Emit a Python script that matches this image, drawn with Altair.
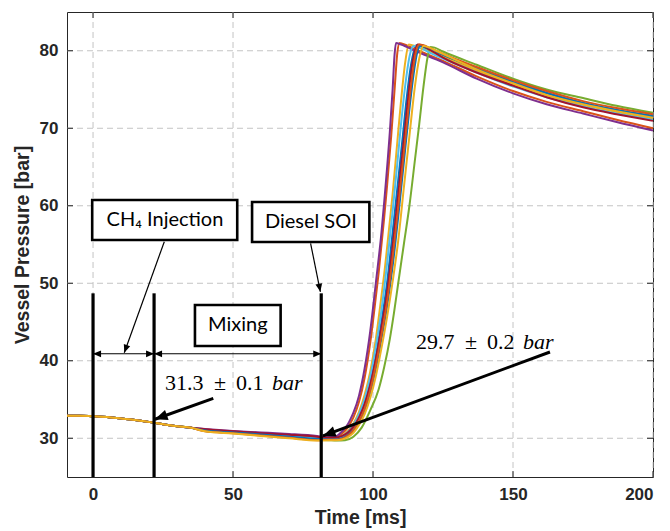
import math
import altair as alt
import pandas as pd

# ---------------------------------------------------------------- data
# Compression phase, identical for every run
T_SHARED = [-9.3, -5, 0, 5, 10, 15, 21, 25, 30, 35]
P_SHARED = [32.9, 32.9, 32.85, 32.75, 32.55, 32.35, 32.05, 31.8, 31.55, 31.35]

# Mixing phase, per run
T_MIX = [40, 50, 60, 70, 80]

RUN_NAMES = ["run01", "run02", "run03", "run04", "run05",
             "run06", "run07", "run08", "run09", "run10"]
RUN_COLORS = ["#0072BD", "#D95319", "#EDB120", "#7E2F8E", "#77AC30",
              "#4DBEEE", "#A2142F", "#0072BD", "#D95319", "#EDB120"]

MIX = {
    "run01": [31.05, 30.8, 30.5, 30.25, 29.95],
    "run02": [31.1, 30.85, 30.6, 30.35, 30.1],
    "run03": [31.0, 30.7, 30.45, 30.15, 29.85],
    "run04": [31.2, 30.95, 30.75, 30.55, 30.3],
    "run05": [30.95, 30.7, 30.4, 30.1, 29.8],
    "run06": [31.05, 30.8, 30.55, 30.3, 30.0],
    "run07": [31.15, 30.9, 30.65, 30.45, 30.2],
    "run08": [31.0, 30.75, 30.5, 30.2, 29.9],
    "run09": [30.9, 30.65, 30.35, 30.05, 29.75],
    "run10": [30.9, 30.6, 30.3, 30.0, 29.7],
}

# Ignition, combustion and cool-down, per run
T_COMB = {
    "run01": [84, 87, 89, 91, 93, 95, 97, 99, 101, 103, 105, 107, 109, 110.5, 112, 113.5, 115.5, 117, 120, 125, 137, 150, 162, 175, 187, 200],
    "run02": [84, 87, 89, 91, 92, 93, 95, 97, 99, 101, 102, 104, 105, 106.5, 107.8, 108.7, 109.5, 110.5, 115, 125, 137, 150, 162, 175, 187, 200],
    "run03": [84, 87, 89, 91, 93, 95, 97, 99, 101, 103, 104, 106, 107, 108.5, 110, 111.5, 112.8, 114, 118, 125, 137, 150, 162, 175, 187, 200],
    "run04": [84, 87, 89, 91, 92, 93, 95, 97, 99, 101, 103, 104, 106, 107, 107.7, 108.2, 110, 115, 125, 137, 150, 162, 175, 187, 200],
    "run05": [84, 87, 90, 93, 96, 99, 102, 104, 106, 107.5, 109, 111, 113, 115, 116.5, 118, 119.5, 120.5, 122, 125, 137, 150, 162, 175, 187, 200],
    "run06": [84, 87, 89, 91, 93, 95, 97, 99, 101, 103, 105, 107, 108.5, 110, 111.5, 113, 114.5, 116, 120, 125, 137, 150, 162, 175, 187, 200],
    "run07": [84, 87, 89, 91, 93, 95, 97, 99, 101, 103, 105, 107, 109, 111, 112.5, 114, 116, 117.5, 120, 125, 137, 150, 162, 175, 187, 200],
    "run08": [84, 87, 89, 91, 93, 95, 97, 99, 101, 103, 105, 107, 109, 111, 113, 114.5, 115.8, 117, 118.5, 121, 125, 137, 150, 162, 175, 187, 200],
    "run09": [84, 87, 89, 91, 93, 95, 97, 99, 101, 103, 105, 107, 109, 111, 112.5, 114, 115.3, 116.5, 118, 120, 125, 137, 150, 162, 175, 187, 200],
    "run10": [84, 87, 89, 91, 93, 95, 97, 99, 101, 103, 105, 107, 109, 111, 113, 115, 116.5, 118, 119.5, 122, 125, 137, 150, 162, 175, 187, 200],
}
P_COMB = {
    "run01": [29.9, 29.95, 30.15, 30.6, 31.4, 32.7, 34.5, 37.1, 40.6, 45.0, 50.0, 56.5, 63.3, 68.5, 73.8, 78.0, 80.7, 80.6, 80.1, 79.3, 77.6, 75.9, 74.5, 73.2, 72.3, 71.5],
    "run02": [30.0, 30.1, 30.6, 31.4, 32.0, 32.7, 34.7, 37.8, 42.3, 48.2, 51.3, 58.5, 62.5, 69.0, 75.5, 79.8, 81.0, 80.9, 80.2, 78.7, 76.7, 74.8, 73.4, 72.2, 71.1, 70.0],
    "run03": [29.9, 29.95, 30.3, 30.9, 31.9, 33.4, 35.6, 38.6, 42.8, 48.3, 51.2, 58.0, 61.5, 67.5, 73.5, 78.5, 80.8, 80.7, 80.2, 79.2, 77.4, 75.6, 74.2, 73.0, 72.1, 71.2],
    "run04": [30.15, 30.3, 30.9, 31.8, 32.5, 33.3, 35.5, 39.0, 43.8, 50.0, 56.5, 60.5, 69.5, 75.0, 79.5, 81.0, 80.8, 80.0, 78.5, 76.4, 74.5, 73.1, 71.9, 70.8, 69.7],
    "run05": [29.75, 29.7, 29.75, 30.2, 31.4, 33.6, 36.3, 39.2, 42.8, 46.2, 50.0, 55.0, 60.0, 66.0, 70.5, 75.3, 79.2, 80.5, 80.4, 79.9, 78.2, 76.4, 75.0, 73.9, 72.9, 72.0],
    "run06": [29.95, 30.0, 30.25, 30.8, 31.7, 33.1, 35.1, 37.9, 41.8, 46.5, 52.5, 59.3, 64.8, 70.5, 75.5, 79.2, 80.6, 80.5, 79.8, 79.0, 77.2, 75.4, 74.0, 72.8, 71.9, 71.1],
    "run07": [30.05, 30.1, 30.3, 30.75, 31.5, 32.7, 34.4, 36.9, 40.2, 44.3, 48.8, 54.8, 61.5, 68.5, 73.8, 78.2, 80.8, 80.7, 80.2, 79.1, 77.2, 75.5, 74.0, 72.7, 71.8, 70.95],
    "run08": [29.85, 29.85, 30.0, 30.35, 31.0, 32.1, 33.6, 35.9, 39.0, 42.8, 47.0, 52.2, 58.6, 65.6, 72.5, 77.0, 79.8, 80.7, 80.6, 80.2, 79.5, 77.8, 76.0, 74.6, 73.3, 72.4, 71.6],
    "run09": [29.8, 29.8, 29.95, 30.35, 31.05, 32.2, 33.8, 36.2, 39.4, 43.3, 47.6, 53.3, 59.8, 66.8, 72.0, 76.8, 79.8, 80.8, 80.7, 80.4, 79.6, 77.9, 76.2, 74.8, 73.5, 72.6, 71.8],
    "run10": [29.75, 29.75, 29.85, 30.15, 30.7, 31.7, 33.1, 35.2, 38.0, 41.6, 45.6, 50.2, 55.5, 62.3, 69.0, 75.5, 79.0, 80.6, 80.5, 80.1, 79.6, 77.6, 75.8, 74.3, 73.1, 72.2, 71.35],
}

X_TICKS = [0, 50, 100, 150, 200]
Y_TICKS = [30, 40, 50, 60, 70, 80]

# ---------------------------------------------------------------- layout
W, H = 586, 465
X_DOM = [-9.3, 200]
Y_DOM = [25, 85]
SX = W / (X_DOM[1] - X_DOM[0])   # px per ms
SY = H / (Y_DOM[1] - Y_DOM[0])   # px per bar

rows = []
for name in RUN_NAMES:
    ts = T_SHARED + T_MIX + T_COMB[name]
    ps = P_SHARED + MIX[name] + P_COMB[name]
    for i, (t, p) in enumerate(zip(ts, ps)):
        rows.append({"run": name, "t": t, "p": p, "i": i})
curves = pd.DataFrame(rows)

xs = alt.Scale(domain=X_DOM, nice=False, zero=False)
ys = alt.Scale(domain=Y_DOM, nice=False, zero=False)

# one axis definition shared by every layer, so they merge into a single axis
X_AXIS = alt.Axis(values=X_TICKS, grid=False, domain=False, ticks=False,
                  labelPadding=9, titlePadding=6)
Y_AXIS = alt.Axis(values=Y_TICKS, grid=False, domain=False, ticks=False,
                  labelPadding=9, titlePadding=7)
X_TITLE = "Time [ms]"
Y_TITLE = "Vessel Pressure [bar]"


def X(field):
    return alt.X(field, type="quantitative", scale=xs, axis=X_AXIS, title=X_TITLE)


def Y(field):
    return alt.Y(field, type="quantitative", scale=ys, axis=Y_AXIS, title=Y_TITLE)


def X2(field):
    return alt.X2(field)


def Y2(field):
    return alt.Y2(field)


def heading(t0, p0, t1, p1):
    dx = (t1 - t0) * SX
    dy = -(p1 - p0) * SY
    return math.degrees(math.atan2(dx, -dy)) % 360


ARROW = "M0,0 L-0.42,1 L0.42,1 Z"  # tip at the anchor point, pointing up

# ---------------------------------------------------------------- layers
grid_x = alt.Chart(pd.DataFrame({"v": X_TICKS})).mark_rule(
    color="#c4c4c4", strokeWidth=1, strokeDash=[6, 4]
).encode(x=X("v"))
grid_y = alt.Chart(pd.DataFrame({"v": Y_TICKS})).mark_rule(
    color="#c4c4c4", strokeWidth=1, strokeDash=[6, 4]
).encode(y=Y("v"))

ticks_df_x = pd.DataFrame({"v": X_TICKS})
ticks_df_y = pd.DataFrame({"v": Y_TICKS})
tick_style = dict(color="#262626", strokeWidth=1)
ticks = [
    alt.Chart(ticks_df_y).mark_rule(**tick_style).encode(y=Y("v"), x=alt.value(0), x2=alt.value(6)),
    alt.Chart(ticks_df_y).mark_rule(**tick_style).encode(y=Y("v"), x=alt.value(W - 6), x2=alt.value(W)),
    alt.Chart(ticks_df_x).mark_rule(**tick_style).encode(x=X("v"), y=alt.value(H - 6), y2=alt.value(H)),
    alt.Chart(ticks_df_x).mark_rule(**tick_style).encode(x=X("v"), y=alt.value(0), y2=alt.value(6)),
]

lines = alt.Chart(curves).mark_line(strokeWidth=2, interpolate="monotone").encode(
    x=X("t"),
    y=Y("p"),
    color=alt.Color("run:N", scale=alt.Scale(domain=RUN_NAMES, range=RUN_COLORS), legend=None),
    order="i:Q",
)

# event markers: gas injection start, injection end, diesel start of injection
EVENTS = [0, 21.8, 81.5]
markers = alt.Chart(pd.DataFrame({"t": EVENTS, "p0": [25] * 3, "p1": [48.7] * 3})).mark_rule(
    color="black", strokeWidth=3.2
).encode(x=X("t"), y=Y("p0"), y2=Y2("p1"))

# interval arrows
SPAN_P = 40.9
spans = pd.DataFrame({"t0": [0, 21.8], "t1": [21.8, 81.5], "p": [SPAN_P, SPAN_P]})
span_rules = alt.Chart(spans).mark_rule(color="black", strokeWidth=1.2).encode(
    x=X("t0"), x2=X2("t1"), y=Y("p"))
span_heads = alt.Chart(pd.DataFrame({
    "t": [0, 21.8, 21.8, 81.5],
    "p": [SPAN_P] * 4,
    "ang": [270, 90, 270, 90],
})).mark_point(shape=ARROW, size=256, filled=True, color="black", opacity=1).encode(
    x=X("t"), y=Y("p"), angle=alt.Angle("ang:Q", scale=None))

# labelled boxes
boxes = pd.DataFrame({
    "t0": [-0.3, 56.8, 36.4],
    "t1": [51.5, 98.7, 67.0],
    "p0": [55.58, 55.32, 41.9],
    "p1": [60.74, 60.48, 47.2],
})
box_marks = alt.Chart(boxes).mark_rect(fill="white", stroke="black", strokeWidth=2.6).encode(
    x=X("t0"), x2=X2("t1"), y=Y("p0"), y2=Y2("p1"))
box_text = alt.Chart(pd.DataFrame({
    "t": [25.7, 77.8, 51.7],
    "p": [58.16, 57.9, 44.55],
    "label": ["CH\u2084 Injection", "Diesel SOI", "Mixing"],
})).mark_text(font="Lato", fontSize=20, color="black", baseline="middle", align="center").encode(
    x=X("t"), y=Y("p"), text="label:N")

# pointer arrows: (tail t, tail p, tip t, tip p, width, head size)
POINTERS = [
    (25.45, 55.36, 11.16, 41.04, 1.2, 256),
    (77.7, 55.16, 81.2, 48.9, 1.2, 256),
    (42.95, 35.15, 22.1, 32.45, 3.0, 640),
    (163.2, 41.13, 82.1, 30.3, 3.0, 640),
]
ptr_df = pd.DataFrame([
    {"t0": a, "p0": b, "t1": c, "p1": d, "w": w, "s": s, "ang": heading(a, b, c, d)}
    for a, b, c, d, w, s in POINTERS
])
ptr_thin = alt.Chart(ptr_df[ptr_df.w < 2]).mark_rule(color="black", strokeWidth=1.2).encode(
    x=X("t0"), y=Y("p0"), x2=X2("t1"), y2=Y2("p1"))
ptr_thick = alt.Chart(ptr_df[ptr_df.w >= 2]).mark_rule(color="black", strokeWidth=3.0).encode(
    x=X("t0"), y=Y("p0"), x2=X2("t1"), y2=Y2("p1"))
ptr_heads = alt.Chart(ptr_df).mark_point(shape=ARROW, filled=True, color="black", opacity=1).encode(
    x=X("t1"), y=Y("p1"), angle=alt.Angle("ang:Q", scale=None), size=alt.Size("s:Q", scale=None))

# pressure statements
MATH_UP = pd.DataFrame({
    "t": [25.7, 45.35, 51.06, 115.35, 135.0, 140.7],
    "p": [37.13, 37.13, 37.13, 42.42, 42.42, 42.42],
    "label": ["31.3", "\u00b1", "0.1", "29.7", "\u00b1", "0.2"],
    "al": ["left", "center", "left", "left", "center", "left"],
})
MATH_IT = pd.DataFrame({"t": [63.9, 153.6], "p": [37.13, 42.42], "label": ["bar", "bar"]})
math_up_l = alt.Chart(MATH_UP[MATH_UP.al == "left"]).mark_text(
    font="Liberation Serif", fontSize=22, color="black", align="left", baseline="middle"
).encode(x=X("t"), y=Y("p"), text="label:N")
math_up_c = alt.Chart(MATH_UP[MATH_UP.al == "center"]).mark_text(
    font="Liberation Serif", fontSize=22, color="black", align="center", baseline="middle"
).encode(x=X("t"), y=Y("p"), text="label:N")
math_it = alt.Chart(MATH_IT).mark_text(
    font="Liberation Serif", fontSize=22, fontStyle="italic", color="black", align="left",
    baseline="middle"
).encode(x=X("t"), y=Y("p"), text="label:N")

chart = alt.layer(
    grid_x, grid_y, *ticks, lines, markers, span_rules, span_heads,
    ptr_thin, ptr_thick, ptr_heads, box_marks, box_text, math_up_l, math_up_c, math_it,
).properties(
    width=W, height=H,
    padding={"left": 67, "top": 12, "right": 17, "bottom": 54},
    autosize=alt.AutoSizeParams(type="none"),
    background="white",
).configure_view(
    stroke="#262626", strokeWidth=1
).configure_axis(
    labelFont="Liberation Sans", labelFontSize=17, labelFontWeight="bold", labelColor="#262626",
    titleFont="Liberation Sans", titleFontSize=19.5, titleFontWeight="bold", titleColor="#262626",
)

chart.save("out.html", embed_options={"renderer": "svg", "actions": False})
